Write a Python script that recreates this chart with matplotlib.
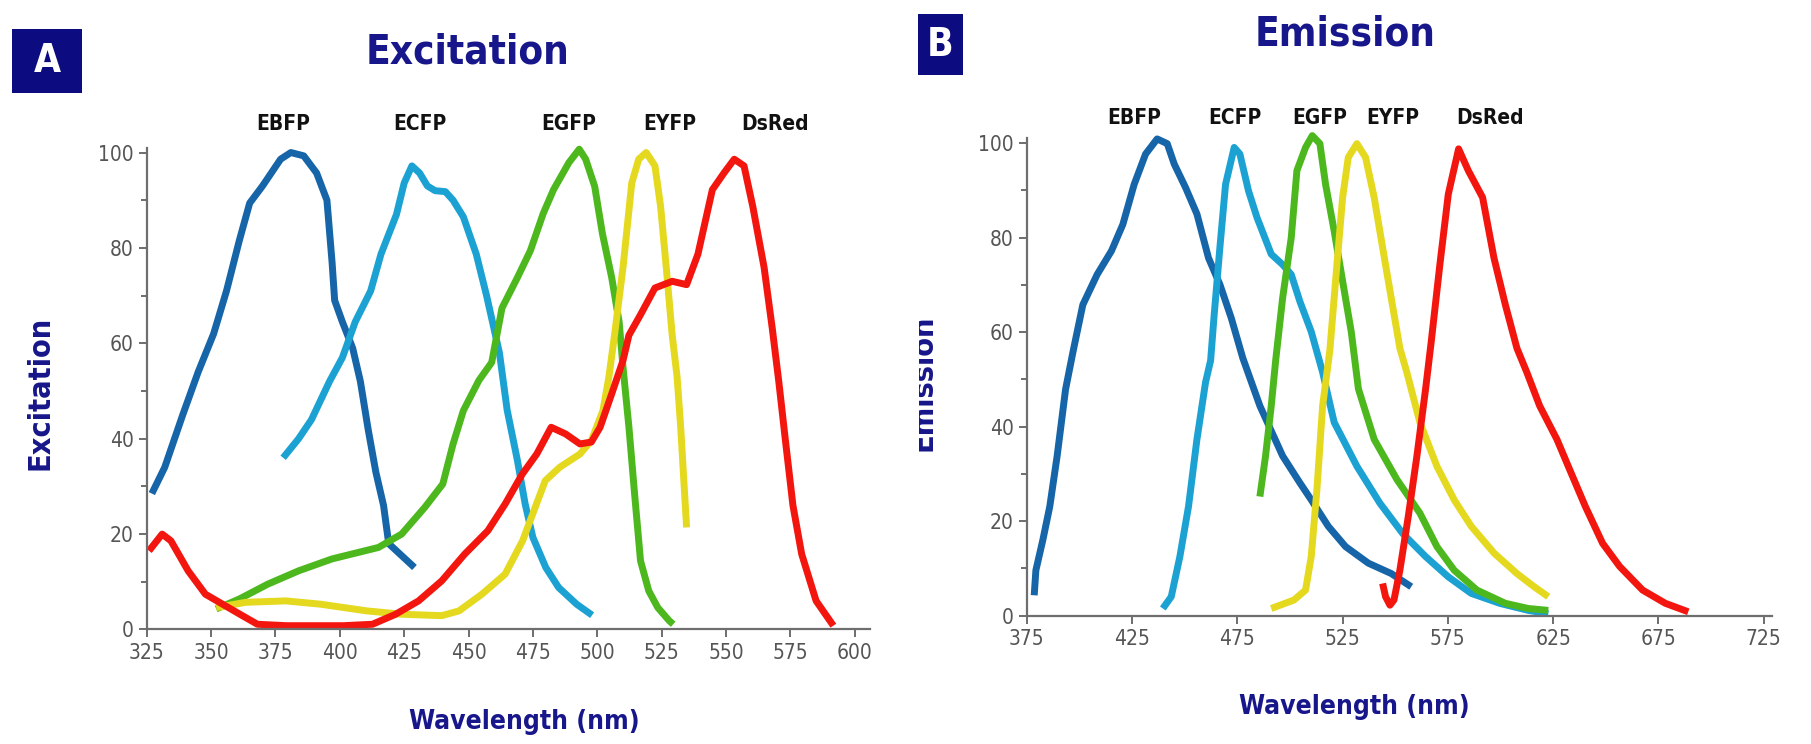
import matplotlib
matplotlib.use("Agg")
import matplotlib.pyplot as plt
from matplotlib.ticker import MultipleLocator
from matplotlib.patches import Rectangle
from matplotlib.transforms import Bbox

plt.rcParams['font.family'] = ['DejaVu Sans']
plt.rcParams['font.stretch'] = 'condensed'

# ---- data ----
names = ["EBFP", "ECFP", "EGFP", "EYFP", "DsRed"]
colors = ["#1565a8", "#1ca2d2", "#4cb81e", "#e4d91e", "#f3160f"]

# panel A: excitation
ex_ebfp_x = [327, 332, 339, 345, 351, 356, 361, 365, 370, 377, 381, 386, 391, 395,
             397, 398, 401, 405, 408, 411, 414, 417, 419, 424, 429]
ex_ebfp_y = [28.5, 34, 45, 54, 62, 71, 81.6, 89.4, 93, 98.6, 100, 99.3, 95.7, 90,
             77, 69, 64.5, 59, 52, 42, 33, 26, 18, 15.5, 13]
ex_ecfp_x = [378, 384, 389, 396, 401, 406, 412, 416, 422, 425, 428, 431, 434, 437,
             441, 444, 448, 453, 457, 462, 465, 469, 472, 475, 480, 485, 492, 498]
ex_ecfp_y = [36, 40, 44, 52, 57, 64.5, 71, 78.7, 87, 93.6, 97.2, 95.7, 93, 92,
             91.8, 90, 86.5, 78.7, 70, 58, 46, 35.4, 26.3, 19.3, 13, 8.8, 5.3, 3]
ex_egfp_x = [352, 361, 372, 384, 397, 415, 424, 433, 440, 444, 448, 454, 459, 463,
             469, 474, 479, 483, 489, 493, 495.5, 499, 502, 505.6, 508.5, 510, 512.3,
             514.5, 516.8, 520, 523.5, 528, 529.5]
ex_egfp_y = [4.3, 6.4, 9.5, 12.3, 14.8, 17.2, 20, 25.6, 30.5, 38.9, 45.9, 52.2, 56, 67.4,
             73.8, 79.4, 87.2, 92.2, 97.9, 100.7, 98.6, 92.9, 83, 73.8, 64.5, 55, 42.4,
             28.4, 14.4, 8.1, 4.6, 1.8, 1.1]
ex_eyfp_x = [352, 363.5, 379, 392.6, 410.5, 424, 439.6, 446.3, 455.2, 464.2, 471, 475.4,
             479.8, 485.4, 493.3, 497.7, 502.2, 504.5, 506.7, 510, 513.4, 516.1, 519,
             522.4, 524.6, 526.8, 529.1, 531, 532.4, 534.7]
ex_eyfp_y = [4.6, 5.7, 6.0, 5.3, 3.9, 3.2, 2.9, 3.9, 7.4, 11.6, 18.6, 24.9,
             31.2, 34, 36.8, 39.6, 45.9, 52.9, 61.7, 75.9, 93.6, 98.6, 100,
             97.2, 88.7, 75.9, 61.7, 53, 42.4, 21.4]
ex_dsred_x = [325.9, 331, 334.4, 341.1, 347.8, 354.5, 361.2, 368, 379.2, 401.5, 412.7,
              421.7, 430.6, 439.6, 448.5, 457.5, 464.2, 470.9, 476.5, 482.1, 487.7,
              493.3, 497.7, 501.1, 505.6, 510, 512.3, 516.8, 522.4, 529.1, 534.7,
              539.1, 544.7, 549.2, 553.2, 557, 560.4, 564.8, 568, 570.5, 573, 576,
              579.4, 585, 591.7]
ex_dsred_y = [16.5, 20, 18.6, 12.3, 7.4, 5.3, 3.2, 1.1, 0.8, 0.8, 1.1,
              3.2, 6.0, 10.2, 15.8, 20.7, 26.3, 32.6, 36.8, 42.4, 41,
              38.9, 39.3, 42.4, 49.4, 56.4, 61.7, 66, 71.6, 73, 72.3,
              78.7, 92.2, 95.7, 98.6, 97.2, 88.7, 75.9, 63, 52, 40, 26,
              15.8, 6, 0.8]

# panel B: emission
em_ebfp_x = [378.5, 379.3, 382.6, 385.9, 389.4, 393.4, 397, 401.6, 408.4, 415.2, 420.6,
             426, 431.4, 436.9, 441.7, 445, 450.4, 455.8, 461.3, 466.7, 472.1, 477.6,
             485.7, 496.5, 504.7, 510.1, 518.2, 526.4, 537.2, 548.1, 557.6]
em_ebfp_y = [4.3, 9.6, 16, 23.1, 33.8, 47.9, 56, 65.8, 72.2, 77.2, 82.8,
             91.3, 97.7, 100.9, 99.9, 95.6, 90.6, 85, 75.7, 70.1, 63, 54.5,
             44.4, 33.8, 28.1, 24.5, 18.9, 14.6, 11.1, 8.9, 6.1]
em_ecfp_x = [439.6, 443.6, 447.7, 451.8, 455.8, 459.9, 462.3, 464, 466.7, 469.4, 473.5,
             476.2, 480.3, 484.3, 491.1, 496.5, 500.6, 504.7, 510.1, 515.5, 521, 531.8,
             542.7, 553.5, 564.4, 575.2, 586.1, 599.6, 613.2, 622.7]
em_ecfp_y = [1.5, 4, 12.5, 23.1, 37.3, 49.4, 54, 63.7, 77.9, 91.3, 99.1,
             97.7, 89.9, 84.3, 76.5, 74.3, 72.2, 66.5, 60.1, 51.5, 40.9, 31.6,
             23.8, 17.4, 12.5, 8.2, 4.7, 2.6, 1.1, 0.4]
em_egfp_x = [485.7, 488.4, 491.1, 493.2, 496.5, 500.6, 503.3, 507.4, 510.6, 514.2, 516.9,
             521, 525, 529.1, 532.5, 540, 550.8, 561.7, 569.8, 578, 588.8, 602.3,
             613.2, 622.7]
em_egfp_y = [25.2, 33.8, 44.4, 54, 67.2, 80, 94.2, 99.1, 101.6, 99.9, 91.3,
             81.4, 70.8, 60.1, 48, 37.3, 28.8, 21.7, 14.6, 9.6, 5.4, 2.6,
             1.5, 1.1]
em_eyfp_x = [491.1, 501.9, 507.4, 510.1, 512.8, 515.5, 518.9, 522.3, 525, 527.7, 531.8,
             535.9, 540, 544, 548.1, 552.2, 555.5, 561.7, 569.8, 578, 586.1, 597,
             607.8, 616, 622.7]
em_eyfp_y = [1.5, 3.3, 5.4, 12.5, 26.7, 44.4, 56, 74.3, 88.5, 97, 99.9,
             97, 88.5, 77.9, 67.2, 56.6, 51.5, 40.9, 31.6, 24.5, 18.9, 13.2,
             8.9, 6.1, 4.0]
em_dsred_x = [544, 545.4, 547.5, 549.4, 552.2, 556.2, 560.3, 564.4, 567.1, 571.2, 575.2,
              580.1, 584.7, 591.5, 596.9, 602.3, 607.8, 612.5, 618.6, 626.8, 632.2,
              640.3, 648.5, 656.6, 667.5, 678.3, 689.2]
em_dsred_y = [6.8, 4, 2.2, 3.3, 9.6, 21, 33.8, 47.9, 58, 74.3, 89.2,
              98.8, 94.2, 88.5, 75.7, 65.8, 56.6, 51.5, 44.4, 37.3, 31.6,
              23.1, 15.3, 10.4, 5.4, 2.6, 0.8]

ex_x = [ex_ebfp_x, ex_ecfp_x, ex_egfp_x, ex_eyfp_x, ex_dsred_x]
ex_y = [ex_ebfp_y, ex_ecfp_y, ex_egfp_y, ex_eyfp_y, ex_dsred_y]
em_x = [em_ebfp_x, em_ecfp_x, em_egfp_x, em_eyfp_x, em_dsred_x]
em_y = [em_ebfp_y, em_ecfp_y, em_egfp_y, em_eyfp_y, em_dsred_y]

# label positions above each peak
ex_label_x = [378, 431, 489, 528, 569]
em_label_x = [426, 474, 514, 549, 595]

ex_ticks = list(range(325, 601, 25))
em_ticks = list(range(375, 726, 50))

navy = "#17168a"
gray = "#6e6e6e"

fig = plt.figure(figsize=(18.11, 7.44), dpi=100)
axA = fig.add_axes([0.0810, 0.1539, 0.3995, 0.6475])
axB = fig.add_axes([0.5670, 0.1726, 0.4115, 0.6413])


def style_axes(ax, ticks, xlim):
    ax.set_xlim(*xlim)
    ax.set_ylim(0, 101)
    ax.set_xticks(ticks)
    ax.set_yticks(range(0, 101, 20))
    ax.yaxis.set_minor_locator(MultipleLocator(10))
    for s in ["top", "right"]:
        ax.spines[s].set_visible(False)
    for s in ["left", "bottom"]:
        ax.spines[s].set_color(gray)
        ax.spines[s].set_linewidth(1.6)
    ax.tick_params(which="both", direction="out", color=gray, width=1.4,
                   labelcolor="#555555", labelsize=15)
    ax.tick_params(which="major", length=6)
    ax.tick_params(which="minor", length=4)


style_axes(axA, ex_ticks, (325, 606))
style_axes(axB, em_ticks, (375, 729))

for xs, ys, c in zip(ex_x, ex_y, colors):
    axA.plot(xs, ys, color=c, lw=5, solid_capstyle="butt", clip_on=False)
for xs, ys, c in zip(em_x, em_y, colors):
    axB.plot(xs, ys, color=c, lw=5, solid_capstyle="butt", clip_on=False)

for n, lx in zip(names, ex_label_x):
    axA.text(lx, 106, n, ha="center", va="center", fontsize=15,
             fontweight="bold", color="#111111", clip_on=False)
for n, lx in zip(names, em_label_x):
    axB.text(lx, 105.3, n, ha="center", va="center", fontsize=15,
             fontweight="bold", color="#111111", clip_on=False)

# titles, axis labels, panel letters
fig.text(468 / 1811, 1 - 52 / 744, "Excitation", ha="center", va="center",
         fontsize=29, fontweight="bold", color=navy)
fig.text(1345 / 1811, 1 - 35 / 744, "Emission", ha="center", va="center",
         fontsize=29, fontweight="bold", color=navy)
fig.text(524 / 1811, 1 - 722 / 744, "Wavelength (nm)", ha="center", va="center",
         fontsize=19, fontweight="bold", color=navy)
fig.text(1354 / 1811, 1 - 707 / 744, "Wavelength (nm)", ha="center", va="center",
         fontsize=19, fontweight="bold", color=navy)
fig.text(40 / 1811, 1 - 393 / 744, "Excitation", ha="center", va="center",
         rotation=90, fontsize=22, fontweight="bold", color=navy)
# the emission y label is cut at the panel edge in the original
em_lab = fig.text(937 / 1811, 1 - 383 / 744, "Emission", ha="right", va="center",
                  rotation=90, fontsize=22, fontweight="bold", color=navy)
em_lab.set_clip_box(Bbox.from_extents(919, 0, 1811, 744))
em_lab.set_clip_on(True)

for (x0, y0, w, h, letter) in [(12, 29, 70, 64, "A"), (918, 14, 45, 61, "B")]:
    fig.patches.append(Rectangle((x0 / 1811, 1 - (y0 + h) / 744), w / 1811, h / 744,
                                 transform=fig.transFigure, facecolor="#0c0c80",
                                 edgecolor="none"))
    fig.text((x0 + w / 2) / 1811, 1 - (y0 + h / 2) / 744, letter, ha="center",
             va="center", fontsize=28, fontweight="bold", color="white")

fig.savefig("out.png", dpi=100)
